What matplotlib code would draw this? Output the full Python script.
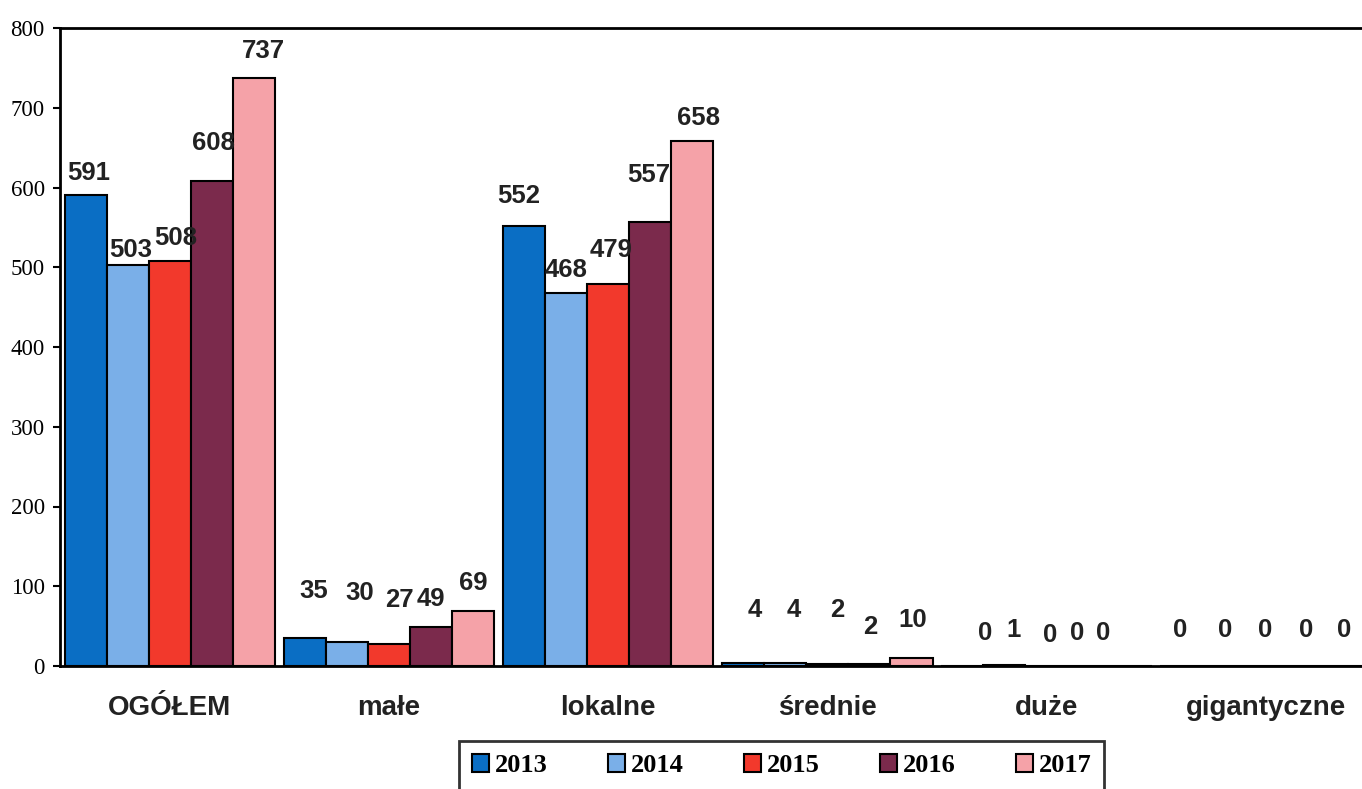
import matplotlib
matplotlib.use("Agg")
import matplotlib.pyplot as plt
import numpy as np

# data
categories = ["OGÓŁEM", "małe", "lokalne", "średnie", "duże", "gigantyczne"]
years = ["2013", "2014", "2015", "2016", "2017"]
v2013 = [591, 35, 552, 4, 0, 0]
v2014 = [503, 30, 468, 4, 1, 0]
v2015 = [508, 27, 479, 2, 0, 0]
v2016 = [608, 49, 557, 2, 0, 0]
v2017 = [737, 69, 658, 10, 0, 0]
series = [v2013, v2014, v2015, v2016, v2017]
colors = ["#0a6ec4", "#7aafe8", "#f2392c", "#7b2a4c", "#f5a2a8"]

# label offsets (pixels) from the top of each bar, per year / category
lab_dx = [[3, 9, -5, 12, 23, -1],
          [3, 13, 0, 8, 9, 2],
          [6, 10, 3, 10, 4, 0],
          [1, 0, -2, 1, -11, -2],
          [9, 0, 6, 1, -27, -6]]
lab_dy = [[22, 47, 30, 53, 33, 36],
          [15, 49, 23, 53, 35, 36],
          [23, 44, 34, 54, 31, 36],
          [38, 28, 47, 37, 33, 36],
          [27, 28, 23, 38, 33, 36]]

fig = plt.figure(figsize=(13.62, 7.89), dpi=100)
ax = fig.add_axes([60 / 1362, 1 - 666 / 789, 1 - 60 / 1362, (666 - 28) / 789])

x = np.arange(len(categories))
w = 0.192
for i, vals in enumerate(series):
    pos = x + (i - 2) * w
    ax.bar(pos, vals, width=w, color=colors[i], edgecolor="black",
           linewidth=1.5, label=years[i], zorder=2)
    for j, v in enumerate(vals):
        ax.annotate(str(v), (pos[j], v), xytext=(lab_dx[i][j], lab_dy[i][j]),
                    textcoords="offset pixels", ha="center", va="center",
                    fontsize=18.5, fontweight="bold", family="Liberation Sans",
                    color="#222222")

ax.set_xlim(-0.502, 5.44)
ax.set_ylim(0, 800)
ax.set_yticks(np.arange(0, 801, 100))
ax.set_yticklabels([str(t) for t in range(0, 801, 100)],
                   family="Liberation Serif", fontsize=16.5)
ax.tick_params(axis="y", length=5, width=1.5, pad=6)
ax.set_xticks(x)
ax.set_xticklabels(categories, family="Liberation Sans", fontweight="bold",
                   fontsize=20, color="#222222")
ax.tick_params(axis="x", length=0, pad=21)

for s in ["left", "bottom", "top"]:
    ax.spines[s].set_linewidth(2)
ax.spines["right"].set_visible(False)

leg = fig.legend(loc="upper center", bbox_to_anchor=(0.574, 1 - 741 / 789),
                 ncol=5, frameon=True, fancybox=False, edgecolor="black",
                 prop={"family": "Liberation Serif", "weight": "bold", "size": 19},
                 handlelength=0.65, handleheight=0.65, handletextpad=0.2,
                 columnspacing=2.3, borderpad=0.5, borderaxespad=0)
leg.get_frame().set_linewidth(2)

fig.savefig("out.png", dpi=100)
